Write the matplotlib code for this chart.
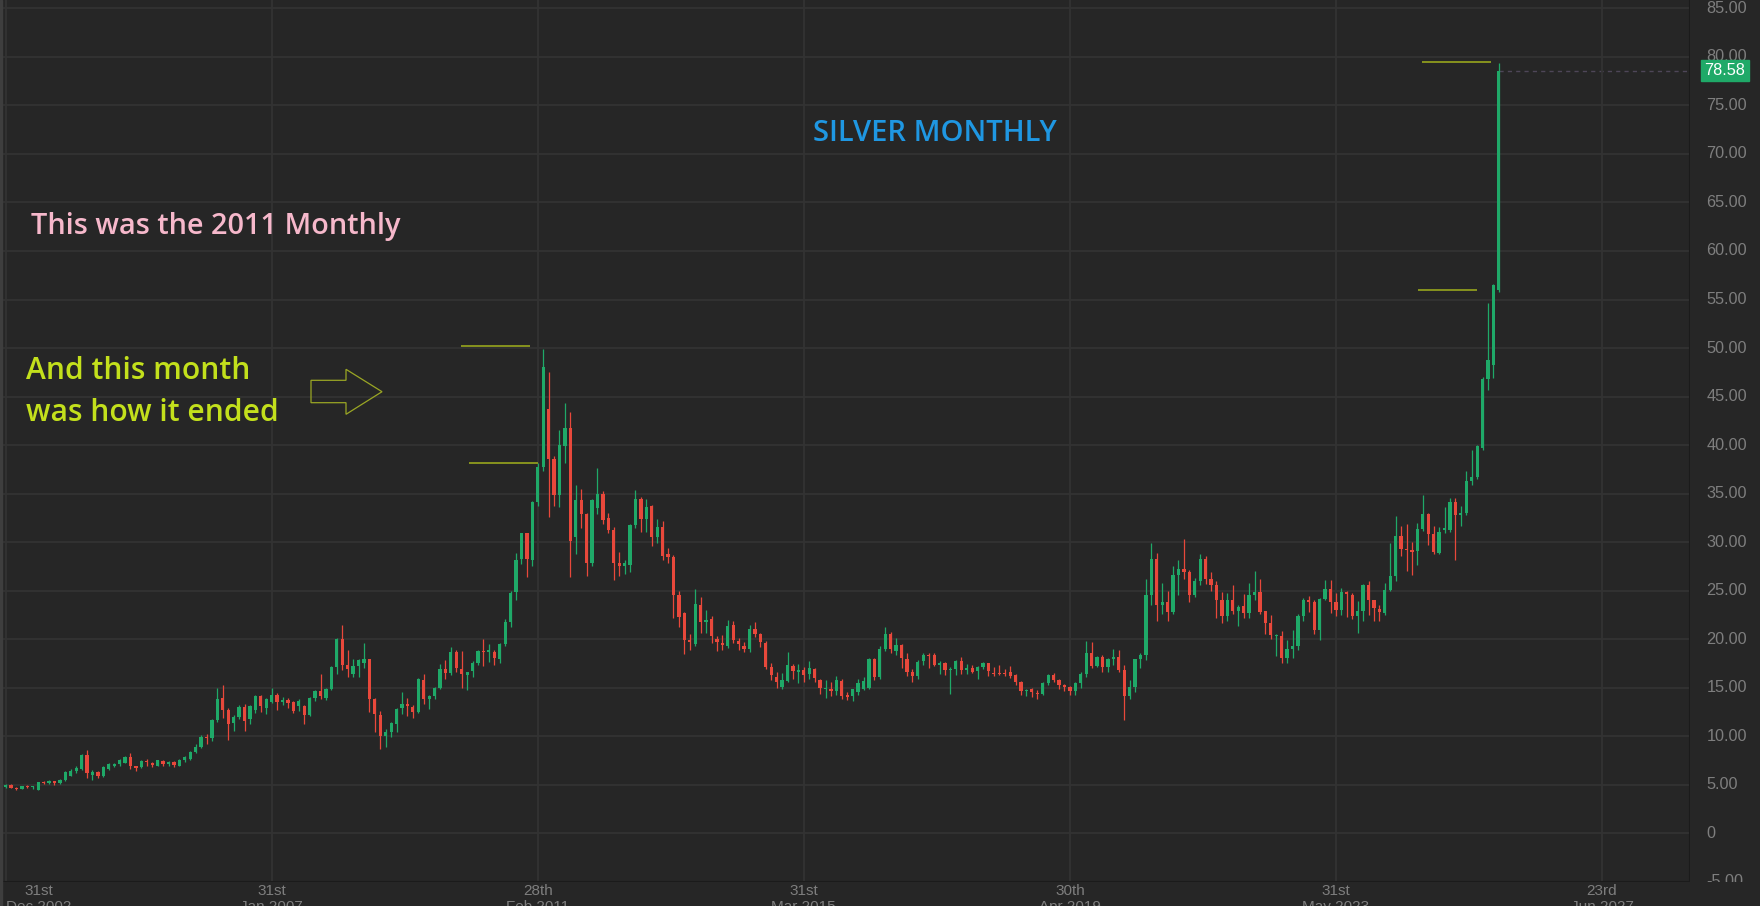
import numpy as np
import pandas as pd
import matplotlib
matplotlib.use("Agg")
import matplotlib.pyplot as plt
from matplotlib.patches import Polygon, Rectangle

# ---------------- data (monthly OHLC, Jan 2003 .. Dec 2025) ----------------
months = pd.date_range("2003-01-01", periods=276, freq="MS")

ohlc_rows = [
    # 2003
    (4.80, 5.05, 4.70, 5.00), (5.00, 5.05, 4.65, 4.70), (4.70, 4.75, 4.50, 4.60), (4.60, 4.90, 4.55, 4.85),
    (4.85, 4.95, 4.70, 4.75), (4.75, 4.90, 4.55, 4.80), (4.50, 5.35, 4.45, 5.30), (5.30, 5.40, 5.05, 5.20),
    (5.20, 5.50, 5.10, 5.40), (5.40, 5.45, 5.00, 5.20), (5.20, 5.60, 5.10, 5.55), (5.55, 6.40, 5.45, 6.30),
    # 2004
    (5.95, 6.60, 5.90, 6.40), (6.40, 7.00, 6.20, 6.70), (6.65, 8.20, 6.50, 8.10), (8.10, 8.60, 5.70, 6.20),
    (6.00, 6.50, 5.50, 6.30), (6.30, 6.40, 5.70, 5.90), (5.90, 6.90, 5.80, 6.80), (6.65, 7.30, 6.50, 7.15),
    (7.00, 7.30, 6.80, 7.20), (7.20, 7.70, 7.00, 7.60), (7.30, 8.00, 7.30, 7.90), (7.85, 8.30, 6.60, 6.95),
    # 2005
    (6.95, 7.00, 6.40, 6.75), (6.80, 7.60, 6.70, 7.50), (7.50, 7.70, 7.00, 7.35), (7.30, 7.40, 6.80, 7.05),
    (7.00, 7.60, 6.90, 7.55), (7.50, 7.60, 6.90, 7.20), (7.20, 7.45, 6.90, 7.40), (7.40, 7.45, 6.80, 7.05),
    (7.00, 7.65, 6.90, 7.60), (7.55, 8.00, 7.40, 7.90), (7.65, 8.50, 7.60, 8.40), (8.40, 9.20, 8.30, 8.90),
    # 2006
    (8.90, 10.10, 8.80, 9.95), (9.95, 10.20, 9.20, 9.80), (9.80, 11.80, 9.50, 11.70), (11.70, 14.97, 11.50, 13.90),
    (13.95, 15.25, 11.90, 12.70), (12.70, 12.90, 9.65, 11.26), (11.40, 12.20, 10.60, 12.00), (12.00, 13.20, 11.80, 13.05),
    (13.05, 13.30, 10.60, 11.60), (11.80, 13.20, 11.30, 13.10), (12.70, 14.30, 12.40, 14.20), (14.20, 14.30, 12.50, 13.10),
    # 2007
    (12.90, 14.00, 12.30, 13.80), (13.50, 15.00, 13.40, 14.30), (14.30, 14.50, 12.70, 13.50), (13.50, 14.10, 13.20, 13.70),
    (13.70, 14.00, 12.90, 13.45), (13.50, 13.60, 12.40, 12.60), (13.10, 13.80, 12.60, 13.60), (13.10, 13.20, 11.30, 12.20),
    (12.20, 14.10, 12.10, 14.00), (14.00, 14.80, 13.60, 14.70), (14.70, 16.40, 13.80, 14.20), (14.00, 15.00, 13.70, 14.90),
    # 2008
    (14.90, 17.20, 14.80, 17.10), (17.10, 20.10, 16.40, 20.00), (20.00, 21.50, 16.80, 17.40), (17.40, 18.90, 16.10, 16.90),
    (16.40, 18.00, 16.10, 17.30), (17.30, 18.00, 16.10, 17.90), (17.60, 19.60, 17.00, 17.95), (17.95, 18.00, 12.50, 13.80),
    (13.80, 14.00, 10.50, 12.30), (12.20, 12.60, 8.70, 10.00), (10.00, 10.80, 8.90, 10.40), (10.40, 11.50, 9.90, 11.40),
    # 2009
    (11.30, 12.90, 10.50, 12.80), (12.90, 14.60, 12.30, 13.30), (13.30, 14.00, 12.10, 13.10), (13.00, 13.20, 11.90, 12.50),
    (12.50, 16.00, 12.40, 15.90), (15.80, 16.40, 13.30, 13.80), (13.90, 14.30, 12.80, 14.20), (14.20, 15.10, 13.90, 15.00),
    (15.00, 17.50, 14.90, 16.90), (16.90, 17.90, 15.90, 16.50), (16.50, 19.20, 16.30, 18.70), (18.70, 18.90, 16.60, 17.00),
    # 2010
    (16.90, 18.80, 15.00, 16.40), (16.30, 16.60, 14.80, 16.60), (16.75, 17.80, 16.10, 17.60), (17.60, 18.90, 17.40, 18.80),
    (18.80, 20.00, 17.30, 18.70), (18.70, 19.50, 17.70, 18.85), (18.70, 18.90, 17.40, 18.10), (18.00, 19.60, 17.60, 19.50),
    (19.50, 22.10, 19.30, 21.80), (21.80, 25.00, 21.30, 24.80), (24.90, 28.90, 24.10, 28.20), (28.30, 31.00, 27.80, 30.90),
    # 2011
    (30.90, 31.00, 26.40, 28.30), (28.20, 34.20, 27.50, 34.10), (34.10, 38.20, 33.70, 37.80), (37.80, 49.90, 37.30, 48.00),
    (43.70, 47.50, 32.60, 38.60), (38.60, 38.90, 33.70, 34.90), (34.90, 41.60, 33.60, 40.00), (39.90, 44.30, 38.20, 41.80),
    (41.80, 43.40, 26.40, 30.10), (30.50, 35.85, 28.80, 34.30), (34.30, 35.50, 31.50, 32.90), (32.90, 33.00, 26.50, 27.90),
    # 2012
    (27.90, 34.50, 27.50, 34.30), (33.50, 37.60, 32.90, 35.00), (35.00, 35.30, 31.90, 32.30), (32.50, 33.00, 30.90, 31.30),
    (31.30, 31.60, 26.10, 27.90), (27.90, 29.00, 26.50, 27.55), (27.50, 28.20, 26.70, 27.90), (27.70, 31.90, 26.90, 31.80),
    (31.80, 35.40, 31.50, 34.50), (34.50, 34.70, 31.10, 32.40), (32.40, 34.50, 31.10, 33.60), (33.70, 33.80, 29.60, 30.50),
    # 2013
    (30.50, 32.40, 29.90, 31.60), (31.60, 32.20, 28.20, 28.60), (28.75, 29.40, 27.90, 28.50), (28.50, 28.70, 22.20, 24.60),
    (24.60, 25.00, 21.30, 22.30), (22.70, 22.80, 18.46, 19.90), (19.95, 20.50, 18.90, 19.75), (19.50, 25.20, 19.30, 23.60),
    (23.50, 24.40, 20.60, 21.80), (21.80, 23.00, 20.70, 21.95), (22.10, 22.40, 19.60, 20.30), (20.00, 20.30, 18.80, 19.70),
    # 2014
    (19.60, 20.40, 18.90, 19.40), (19.30, 22.00, 19.10, 21.40), (21.45, 21.90, 19.60, 19.90), (19.85, 20.10, 18.90, 19.50),
    (19.30, 19.70, 18.70, 19.00), (19.00, 21.50, 18.70, 21.10), (21.10, 21.80, 20.20, 20.50), (20.50, 20.60, 19.20, 19.70),
    (19.60, 19.80, 16.90, 17.10), (17.10, 17.60, 15.80, 16.30), (16.10, 16.60, 15.00, 15.60), (15.10, 16.50, 14.90, 15.80),
    # 2015
    (15.70, 18.70, 15.60, 17.40), (17.30, 17.50, 15.90, 16.75), (16.65, 17.50, 15.50, 16.80), (16.80, 17.10, 15.60, 16.30),
    (16.40, 17.80, 15.90, 17.00), (16.90, 17.00, 15.60, 16.00), (15.80, 15.90, 14.40, 14.97), (14.90, 15.80, 14.00, 15.00),
    (14.90, 15.60, 14.20, 14.70), (14.70, 16.20, 14.30, 15.80), (15.70, 15.90, 13.90, 14.20), (14.20, 14.60, 13.70, 14.10),
    # 2016
    (14.20, 14.90, 13.60, 14.90), (14.60, 15.90, 14.30, 15.55), (14.90, 16.10, 14.80, 15.70), (15.00, 18.10, 14.90, 18.00),
    (18.00, 18.10, 15.80, 16.10), (16.10, 19.30, 15.90, 18.98), (18.98, 21.30, 18.80, 20.50), (20.50, 20.80, 18.60, 18.98),
    (18.80, 20.10, 18.40, 19.40), (19.40, 19.50, 17.00, 18.10), (18.00, 18.60, 16.20, 16.65), (16.65, 16.90, 15.60, 16.20),
    # 2017
    (16.20, 17.90, 15.90, 17.70), (17.80, 18.60, 17.40, 18.40), (18.40, 18.60, 17.00, 18.30), (18.40, 18.60, 17.20, 17.40),
    (17.40, 17.80, 16.40, 17.60), (17.60, 17.70, 16.30, 16.85), (16.85, 17.10, 14.35, 16.95), (16.90, 17.90, 16.30, 17.80),
    (17.80, 18.20, 16.40, 16.80), (16.80, 17.50, 16.40, 17.00), (17.00, 17.40, 16.50, 16.60), (16.70, 17.20, 15.90, 17.15),
    # 2018
    (17.10, 17.70, 16.90, 17.60), (17.60, 17.60, 16.20, 16.70), (16.55, 17.10, 16.20, 16.40), (16.45, 17.40, 16.30, 16.40),
    (16.45, 16.95, 16.20, 16.40), (16.65, 17.30, 16.00, 16.20), (16.30, 16.40, 15.30, 15.65), (15.65, 15.70, 14.30, 14.70),
    (14.65, 14.90, 14.20, 14.75), (14.90, 15.00, 14.10, 14.60), (14.50, 14.80, 13.90, 14.40), (14.35, 15.60, 14.30, 15.55),
    # 2019
    (15.55, 16.40, 15.30, 16.30), (16.30, 16.50, 15.60, 15.80), (15.80, 15.90, 14.90, 15.30), (15.30, 15.40, 14.70, 15.10),
    (15.10, 15.15, 14.30, 14.70), (14.70, 15.60, 14.30, 15.45), (15.45, 16.60, 15.00, 16.40), (16.40, 19.84, 16.10, 18.60),
    (18.60, 19.70, 17.00, 17.30), (17.30, 18.30, 17.10, 18.20), (18.20, 18.40, 16.60, 17.10), (17.10, 18.10, 16.60, 17.95),
    # 2020
    (17.95, 19.05, 17.40, 18.20), (18.20, 18.90, 16.60, 16.85), (16.85, 17.40, 11.70, 14.20), (14.20, 15.80, 13.90, 15.10),
    (15.05, 18.00, 14.60, 17.95), (17.95, 18.60, 17.00, 18.40), (18.40, 26.20, 17.90, 24.60), (24.60, 29.96, 23.50, 28.30),
    (28.30, 28.90, 21.90, 23.50), (23.50, 25.80, 22.60, 23.85), (23.85, 25.00, 21.90, 22.80), (22.80, 27.50, 22.60, 26.60),
    # 2021
    (26.60, 28.20, 24.60, 27.20), (27.20, 30.30, 26.20, 26.95), (26.95, 27.10, 23.80, 24.60), (24.60, 26.30, 24.40, 26.00),
    (26.00, 28.80, 25.60, 28.30), (28.30, 28.60, 25.70, 26.25), (26.25, 26.90, 25.00, 25.60), (25.60, 26.00, 22.20, 24.10),
    (24.10, 24.90, 21.70, 22.35), (22.35, 24.80, 21.90, 24.05), (24.05, 25.60, 22.60, 22.90), (22.90, 23.50, 21.40, 23.30),
    # 2022
    (23.45, 24.70, 22.20, 22.70), (22.70, 25.80, 22.20, 24.60), (24.60, 27.00, 24.00, 24.90), (24.90, 26.20, 22.60, 22.80),
    (22.90, 22.90, 20.50, 21.65), (21.65, 22.50, 20.00, 20.40), (20.30, 20.50, 18.30, 20.40), (20.35, 20.90, 17.60, 18.10),
    (18.10, 19.90, 17.60, 19.05), (19.05, 21.00, 18.10, 19.30), (19.30, 22.60, 18.90, 22.45), (22.45, 24.30, 21.90, 24.05),
    # 2023
    (24.05, 24.50, 22.80, 23.80), (23.80, 24.00, 20.50, 21.00), (21.00, 24.30, 19.90, 24.20), (24.20, 26.10, 24.00, 25.20),
    (25.20, 26.10, 22.70, 23.85), (23.80, 24.80, 22.35, 23.00), (23.00, 25.30, 22.50, 24.90), (24.90, 25.00, 22.30, 24.70),
    (24.60, 24.80, 22.10, 22.40), (22.40, 23.90, 20.70, 22.90), (22.90, 25.70, 21.90, 25.60), (25.60, 26.00, 22.50, 24.05),
    # 2024
    (24.00, 24.10, 21.90, 23.20), (23.10, 23.50, 21.90, 22.80), (22.75, 25.80, 22.50, 25.10), (25.10, 29.90, 25.00, 26.50),
    (26.50, 32.70, 26.00, 30.60), (30.60, 31.70, 28.60, 29.30), (29.30, 31.85, 27.00, 29.20), (29.20, 30.00, 26.60, 29.00),
    (29.10, 32.00, 27.70, 31.40), (31.40, 34.90, 31.20, 32.90), (32.90, 33.00, 29.70, 30.80), (30.80, 31.70, 28.80, 29.00),
    # 2025
    (28.90, 31.60, 28.80, 31.05), (31.30, 33.60, 30.90, 31.50), (31.26, 34.60, 31.10, 34.15), (34.15, 34.60, 28.20, 32.80),
    (32.80, 33.70, 31.70, 33.00), (33.00, 37.30, 32.80, 36.30), (36.30, 39.50, 35.90, 36.70), (36.70, 40.00, 36.50, 39.90),
    (39.70, 47.00, 39.50, 46.80), (46.80, 54.65, 45.70, 48.75), (48.30, 56.60, 46.90, 56.50), (56.00, 79.40, 55.80, 78.58),
]
opens = [r[0] for r in ohlc_rows]
highs = [r[1] for r in ohlc_rows]
lows = [r[2] for r in ohlc_rows]
closes = [r[3] for r in ohlc_rows]

# x-axis ticks (bar index) and their labels
xtick_pos = [0, 49, 98, 147, 196, 245, 294]
xtick_day = ["31st", "31st", "28th", "31st", "30th", "31st", "23rd"]
xtick_month = ["Dec 2002", "Jan 2007", "Feb 2011", "Mar 2015", "Apr 2019", "May 2023", "Jun 2027"]
yticks = list(range(-5, 90, 5))
last_price = 78.58

# drawn horizontal annotation levels (bar index start/end, price)
level_start = [83.8, 85.4, 260.8, 260.1]
level_end = [96.6, 98.1, 273.6, 271.0]
level_price = [50.2, 38.15, 79.45, 55.95]

# ---------------- styling ----------------
W, H, DPI = 1760, 906, 100
BG = "#262626"
GRID = "#333333"
UP = "#1fa968"
DOWN = "#e8483b"
AXTXT = "#7e7e7e"
OLIVE = "#8f9c1e"

PX_BAR = 5.43      # pixels per bar
X0_PX = 5.6        # pixel of bar 0
PX_UNIT = 9.72     # pixels per price unit
Y0_PX = 834.5      # pixel of price 0
PLOT_R = 1690
PLOT_B = 882

fig = plt.figure(figsize=(W / DPI, H / DPI), dpi=DPI, facecolor=BG)

ax = fig.add_axes([0, 1 - PLOT_B / H, PLOT_R / W, PLOT_B / H])
ax.set_facecolor(BG)
ax.set_xlim(-X0_PX / PX_BAR, (PLOT_R - X0_PX) / PX_BAR)
ax.set_ylim((Y0_PX - PLOT_B) / PX_UNIT, Y0_PX / PX_UNIT)
ax.set_xticks(xtick_pos)
ax.set_yticks(yticks)
ax.tick_params(left=False, bottom=False, labelleft=False, labelbottom=False)
ax.grid(True, color=GRID, lw=1.3, zorder=0)
for s in ax.spines.values():
    s.set_visible(False)

o = np.array(opens); h = np.array(highs); l = np.array(lows); c = np.array(closes)
x = np.arange(len(o))
cols = np.where(c >= o, UP, DOWN)
ax.vlines(x, l, h, colors=cols, lw=0.9, zorder=2)
body_bottom = np.minimum(o, c)
body_h = np.maximum(np.abs(c - o), 0.12)
ax.bar(x, body_h, bottom=body_bottom, width=0.6, color=cols, linewidth=0, zorder=3)

# annotation levels
ax.hlines(level_price, level_start, level_end, colors=OLIVE, lw=1.3, zorder=4)

# last price dashed line
ax.hlines(last_price, x[-1], ax.get_xlim()[1], colors="#4e4658", lw=1,
          linestyles=(0, (3, 3)), zorder=1)

# borders
ax.axhline(ax.get_ylim()[0], color="#1b1b1b", lw=1.5, zorder=5)
ax.axvline(ax.get_xlim()[1], color="#1b1b1b", lw=1.5, zorder=5)

# right price axis
ax2 = fig.add_axes([PLOT_R / W, 1 - PLOT_B / H, (W - PLOT_R) / W, PLOT_B / H])
ax2.set_xlim(0, W - PLOT_R)
ax2.set_ylim(ax.get_ylim())
ax2.axis("off")
for v in yticks:
    lab = "0" if v == 0 else f"{v:.2f}"
    ax2.text(16.5, v, lab, color=AXTXT, fontsize=11.7, family="Liberation Sans",
             ha="left", va="center", clip_on=True)
box_h = 21.7 / PX_UNIT
ax2.add_patch(Rectangle((10.7, last_price - box_h / 2), 48.6, box_h, color=UP, zorder=5))
ax2.text(35, last_price, f"{last_price:.2f}", color="white", fontsize=11.7,
         family="Liberation Sans", ha="center", va="center", zorder=6)

# x labels (second line runs off the bottom edge, as in the original screenshot)
for i, (p, d, m) in enumerate(zip(xtick_pos, xtick_day, xtick_month)):
    px = X0_PX + p * PX_BAR
    if i == 0:
        fig.text(6 / W, 1 - 884 / H, f"{d}\n{m}", color=AXTXT, fontsize=11,
                 family="Liberation Sans", ha="left", va="top",
                 multialignment="center", linespacing=1.15)
    else:
        fig.text(px / W, 1 - 884 / H, f"{d}\n{m}", color=AXTXT, fontsize=11,
                 family="Liberation Sans", ha="center", va="top",
                 multialignment="center", linespacing=1.15)

# left edge strip
fig.add_artist(Rectangle((0, 0), 2 / W, 1, transform=fig.transFigure, color="#3e3e3e"))

# annotation texts
fig.text(935 / W, 1 - 140.7 / H, "SILVER MONTHLY", color="#1f97e2", fontsize=21,
         family="Open Sans", fontweight="semibold", ha="center", va="baseline")
fig.text(31 / W, 1 - 234 / H, "This was the 2011 Monthly", color="#f6b8cb", fontsize=20.8,
         family="Open Sans", fontweight="semibold", ha="left", va="baseline")
fig.text(26 / W, 1 - 379.3 / H, "And this month", color="#c3e01c", fontsize=21.6,
         family="Open Sans", fontweight="semibold", ha="left", va="baseline")
fig.text(26 / W, 1 - 420.7 / H, "was how it ended", color="#c3e01c", fontsize=21.6,
         family="Open Sans", fontweight="semibold", ha="left", va="baseline")

# outlined arrow
arrow_px = [(311, 380.3), (346, 380.3), (346, 369.3), (382, 391.7),
            (346, 414.3), (346, 402.7), (311, 402.7)]
arrow_pts = [(px / W, 1 - py / H) for px, py in arrow_px]
fig.add_artist(Polygon(arrow_pts, closed=True, fill=False, edgecolor="#9aa624",
                       lw=0.9, transform=fig.transFigure))

fig.savefig("out.png", dpi=DPI, facecolor=BG)
